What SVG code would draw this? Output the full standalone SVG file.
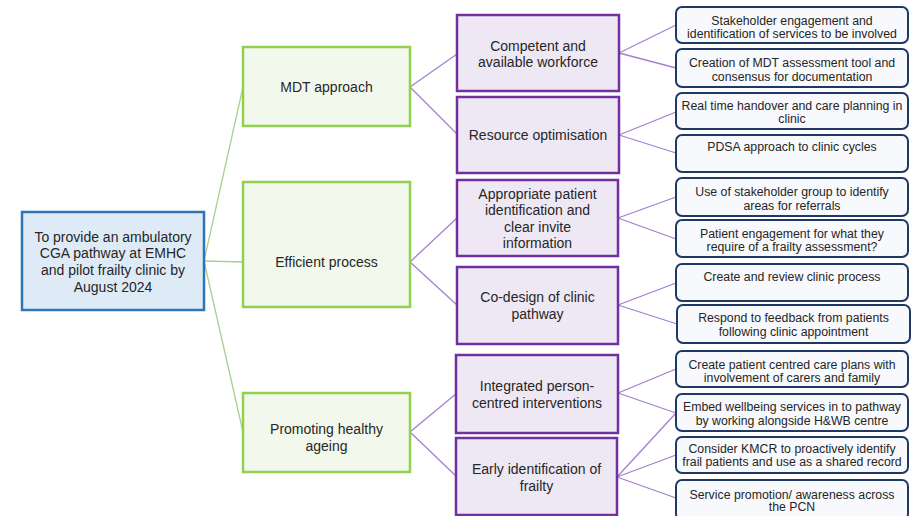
<svg xmlns="http://www.w3.org/2000/svg" width="917" height="516" viewBox="0 0 917 516">
<style>
text{font-family:"Liberation Sans",Arial,sans-serif;fill:#262626;text-anchor:middle}
.root rect{fill:#DEEBF7;stroke:#2E75B6;stroke-width:2.5}
.g rect{fill:#F2F8EC;stroke:#92D050;stroke-width:2.5}
.p rect{fill:#EEE8F4;stroke:#7030A0;stroke-width:2.5}
.r rect{fill:#F7F9FD;stroke:#1F3864;stroke-width:2}
.root text,.g text,.p text{font-size:14px}
.r text{font-size:12.3px}
.cg line{stroke:#A9D18E;stroke-width:1.3}
.cp line{stroke:#A57FD0;stroke-width:1.3}
</style>
<rect width="917" height="516" fill="#FFFFFF"/>
<g id="connectors">
<g class="cg">
<line x1="204" y1="261" x2="243" y2="87"/>
<line x1="204" y1="261" x2="243" y2="262"/>
<line x1="204" y1="261" x2="243" y2="432"/>
</g>
<g class="cp">
<line x1="410" y1="87" x2="457" y2="54"/>
<line x1="410" y1="87" x2="457" y2="134"/>
<line x1="410" y1="262" x2="457" y2="218"/>
<line x1="410" y1="262" x2="457" y2="305"/>
<line x1="410" y1="432" x2="457" y2="393"/>
<line x1="410" y1="432" x2="457" y2="477"/>
<line x1="619" y1="53" x2="676" y2="25"/>
<line x1="619" y1="53" x2="676" y2="68"/>
<line x1="619" y1="135" x2="676" y2="112"/>
<line x1="619" y1="135" x2="676" y2="153"/>
<line x1="618" y1="218" x2="676" y2="197"/>
<line x1="618" y1="218" x2="676" y2="239"/>
<line x1="618" y1="305" x2="676" y2="283"/>
<line x1="618" y1="305" x2="677" y2="324"/>
<line x1="618" y1="393" x2="676" y2="369"/>
<line x1="618" y1="393" x2="676" y2="413"/>
<line x1="617" y1="477" x2="676" y2="413"/>
<line x1="617" y1="477" x2="676" y2="455"/>
<line x1="617" y1="477" x2="676" y2="498"/>
</g>
</g>
<g id="root" class="root">
<rect x="22" y="212" width="182" height="98"/>
<text x="113" y="242">To provide an ambulatory</text>
<text x="113" y="258">CGA pathway at EMHC</text>
<text x="113" y="275">and pilot frailty clinic by</text>
<text x="113" y="292">August 2024</text>
</g>
<g id="mdt" class="g">
<rect x="243" y="47" width="167" height="79"/>
<text x="326.5" y="92">MDT approach</text>
</g>
<g id="efficient" class="g">
<rect x="243" y="182" width="167" height="125"/>
<text x="326.5" y="267">Efficient process</text>
</g>
<g id="promoting" class="g">
<rect x="243" y="393" width="167" height="79"/>
<text x="326.5" y="434">Promoting healthy</text>
<text x="326.5" y="451">ageing</text>
</g>
<g id="competent" class="p">
<rect x="457" y="15" width="162" height="76"/>
<text x="538" y="51">Competent and</text>
<text x="538" y="67">available workforce</text>
</g>
<g id="resource" class="p">
<rect x="457" y="97" width="162" height="76"/>
<text x="538" y="140">Resource optimisation</text>
</g>
<g id="appropriate" class="p">
<rect x="457" y="180" width="161" height="76"/>
<text x="537.5" y="199">Appropriate patient</text>
<text x="537.5" y="215">identification and</text>
<text x="537.5" y="232">clear invite</text>
<text x="537.5" y="248">information</text>
</g>
<g id="codesign" class="p">
<rect x="457" y="267" width="161" height="77"/>
<text x="537.5" y="302">Co-design of clinic</text>
<text x="537.5" y="319">pathway</text>
</g>
<g id="integrated" class="p">
<rect x="456" y="355" width="162" height="78"/>
<text x="537" y="391">Integrated person-</text>
<text x="537" y="408">centred interventions</text>
</g>
<g id="early" class="p">
<rect x="456" y="438" width="161" height="77"/>
<text x="536.5" y="474">Early identification of</text>
<text x="536.5" y="491">frailty</text>
</g>
<g id="r1" class="r">
<rect x="676" y="7" width="232" height="36" rx="6"/>
<text x="792" y="24.5">Stakeholder engagement and</text>
<text x="792" y="37.5">identification of services to be involved</text>
</g>
<g id="r2" class="r">
<rect x="676" y="49" width="232" height="38" rx="6"/>
<text x="792" y="67">Creation of MDT assessment tool and</text>
<text x="792" y="80.5">consensus for documentation</text>
</g>
<g id="r3" class="r">
<rect x="676" y="93" width="232" height="36" rx="6"/>
<text x="792" y="109.5">Real time handover and care planning in</text>
<text x="792" y="123">clinic</text>
</g>
<g id="r4" class="r">
<rect x="676" y="135" width="232" height="37" rx="6"/>
<text x="792" y="151">PDSA approach to clinic cycles</text>
</g>
<g id="r5" class="r">
<rect x="676" y="178" width="232" height="38" rx="6"/>
<text x="792" y="196">Use of stakeholder group to identify</text>
<text x="792" y="209.5">areas for referrals</text>
</g>
<g id="r6" class="r">
<rect x="676" y="220" width="232" height="37" rx="6"/>
<text x="792" y="238">Patient engagement for what they</text>
<text x="792" y="251">require of a frailty assessment?</text>
</g>
<g id="r7" class="r">
<rect x="676" y="264" width="232" height="37" rx="6"/>
<text x="792" y="280.5">Create and review clinic process</text>
</g>
<g id="r8" class="r">
<rect x="677" y="305" width="233" height="38" rx="6"/>
<text x="793.5" y="322">Respond to feedback from patients</text>
<text x="793.5" y="336">following clinic appointment</text>
</g>
<g id="r9" class="r">
<rect x="676" y="351" width="232" height="36" rx="6"/>
<text x="792" y="368.5">Create patient centred care plans with</text>
<text x="792" y="382">involvement of carers and family</text>
</g>
<g id="r10" class="r">
<rect x="676" y="394" width="232" height="37" rx="6"/>
<text x="792" y="411">Embed wellbeing services in to pathway</text>
<text x="792" y="424.5">by working alongside H&amp;WB centre</text>
</g>
<g id="r11" class="r">
<rect x="676" y="437" width="232" height="36" rx="6"/>
<text x="792" y="453">Consider KMCR to proactively identify</text>
<text x="792" y="466">frail patients and use as a shared record</text>
</g>
<g id="r12" class="r">
<rect x="676" y="480" width="232" height="40" rx="6"/>
<text x="792" y="498.5">Service promotion/ awareness across</text>
<text x="792" y="511">the PCN</text>
</g>
</svg>
